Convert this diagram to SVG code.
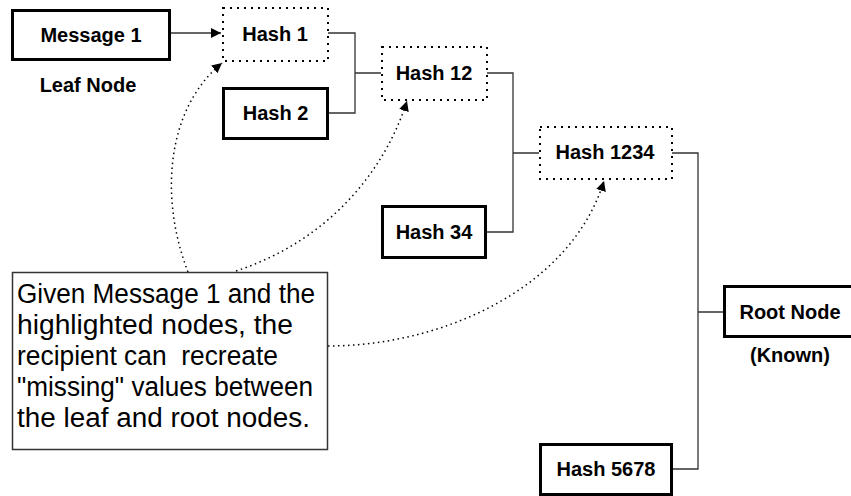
<svg xmlns="http://www.w3.org/2000/svg" width="851" height="496" viewBox="0 0 851 496">
<style>
  .solid { fill: #fff; stroke: #000; stroke-width: 3; }
  .dotted { fill: #fff; stroke: #000; stroke-width: 2; stroke-dasharray: 2 5; }
  .lbl { font-family: "Liberation Sans", Arial, sans-serif; font-weight: bold; font-size: 20px; fill: #000; text-anchor: middle; }
  .conn { fill: none; stroke: #333; stroke-width: 1.3; }
  .curve { fill: none; stroke: #000; stroke-width: 1.5; stroke-dasharray: 1.5 3.5; }
  .note { font-family: "Liberation Sans", Arial, sans-serif; font-size: 27px; fill: #000; white-space: pre; }
</style>
<defs>
  <marker id="arr" viewBox="0 0 10 10" refX="10" refY="5" markerWidth="10" markerHeight="10" markerUnits="userSpaceOnUse" orient="auto">
    <path d="M0,0 L10,5 L0,10 z" fill="#000"/>
  </marker>
</defs>
<rect width="851" height="496" fill="#fff"/>
<g id="connectors">
  <path class="conn" d="M171,33 H221" marker-end="url(#arr)"/>
  <path class="conn" d="M328,33 H355 V113 H329 M355,73 H381"/>
  <path class="conn" d="M487,73 H513 V232 H487 M513,153 H539"/>
  <path class="conn" d="M672,153 H698 V469 H673 M698,312 H723"/>
  <path class="curve" d="M188,272 C160,200 165,110 222,63" marker-end="url(#arr)"/>
  <path class="curve" d="M236,271 C330,240 385,170 407,101" marker-end="url(#arr)"/>
  <path class="curve" d="M328,346 C440,346 570,290 604,181" marker-end="url(#arr)"/>
</g>
<g id="message1">
  <rect class="solid" x="12.5" y="10.5" width="157" height="49"/>
  <text class="lbl" x="91" y="42">Message 1</text>
</g>
<g id="leafnode">
  <text class="lbl" x="88" y="92">Leaf Node</text>
</g>
<g id="hash1">
  <rect class="dotted" x="223" y="8" width="105" height="53"/>
  <text class="lbl" x="275" y="41">Hash 1</text>
</g>
<g id="hash2">
  <rect class="solid" x="223.5" y="88.5" width="104" height="50"/>
  <text class="lbl" x="275.5" y="120">Hash 2</text>
</g>
<g id="hash12">
  <rect class="dotted" x="382" y="47" width="105" height="53"/>
  <text class="lbl" x="434" y="80">Hash 12</text>
</g>
<g id="hash34">
  <rect class="solid" x="382.5" y="206.5" width="103" height="51"/>
  <text class="lbl" x="434" y="239">Hash 34</text>
</g>
<g id="hash1234">
  <rect class="dotted" x="540" y="127" width="132" height="52"/>
  <text class="lbl" x="605" y="159">Hash 1234</text>
</g>
<g id="hash5678">
  <rect class="solid" x="540.5" y="444.5" width="131" height="50"/>
  <text class="lbl" x="606" y="476">Hash 5678</text>
</g>
<g id="rootnode">
  <rect class="solid" x="724.5" y="286.5" width="140" height="50"/>
  <text class="lbl" x="790" y="319">Root Node</text>
  <text class="lbl" x="790" y="362">(Known)</text>
</g>
<g id="note">
  <rect x="12.5" y="272.5" width="315" height="177" fill="#fff" stroke="#333" stroke-width="1.5"/>
  <text class="note" x="17" y="303" textLength="298" lengthAdjust="spacingAndGlyphs">Given Message 1 and the</text>
  <text class="note" x="17" y="334" textLength="276" lengthAdjust="spacingAndGlyphs">highlighted nodes, the</text>
  <text class="note" x="17" y="365" textLength="261" lengthAdjust="spacingAndGlyphs">recipient can  recreate</text>
  <text class="note" x="17" y="396" textLength="296" lengthAdjust="spacingAndGlyphs">"missing" values between</text>
  <text class="note" x="17" y="427" textLength="293" lengthAdjust="spacingAndGlyphs">the leaf and root nodes.</text>
</g>
</svg>
